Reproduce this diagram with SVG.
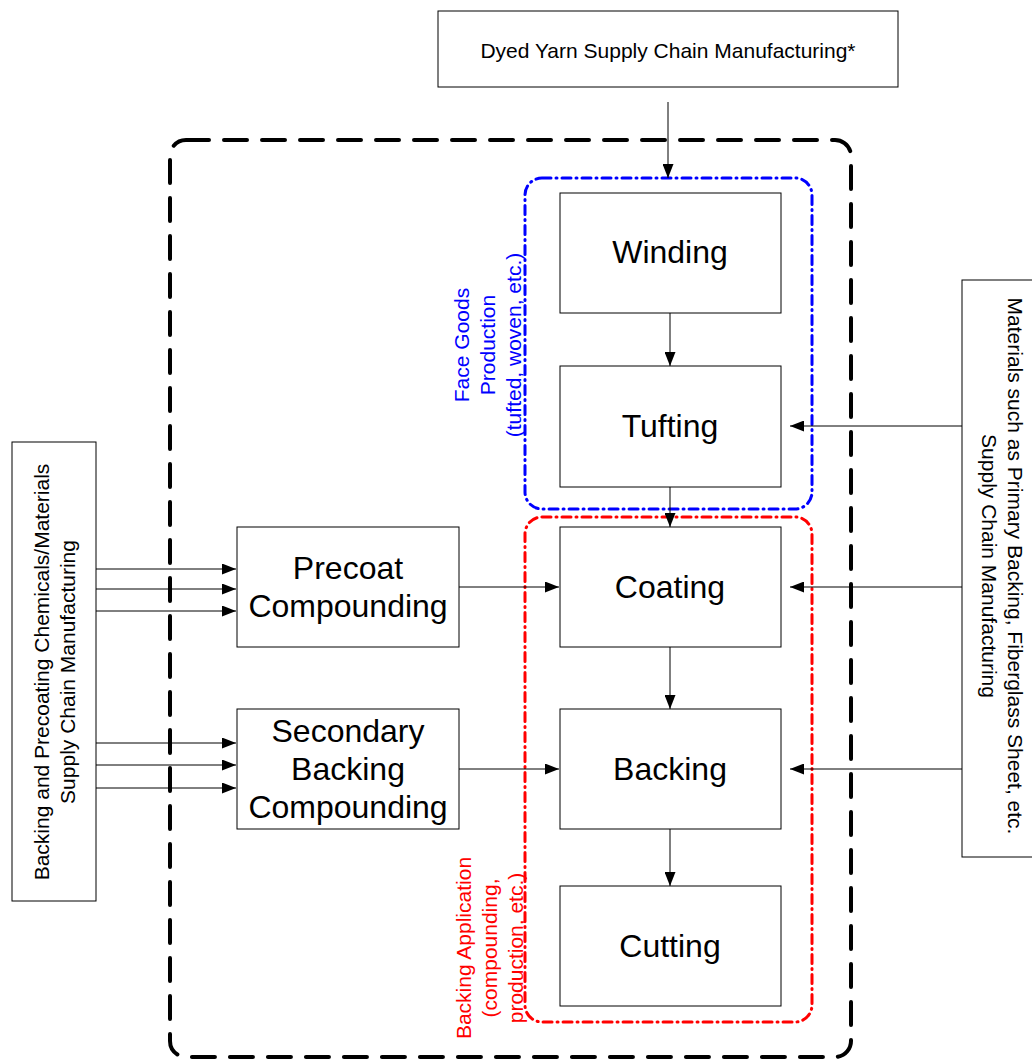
<svg xmlns="http://www.w3.org/2000/svg" width="1032" height="1061" viewBox="0 0 1032 1061">
<style>
.box{fill:#fff;stroke:#000;stroke-width:1}
.sm{font-family:"Liberation Sans",Arial,sans-serif;font-size:21px;fill:#000;text-anchor:middle;dominant-baseline:central}
.lg{font-family:"Liberation Sans",Arial,sans-serif;font-size:32px;fill:#000;text-anchor:middle;dominant-baseline:central}
.conn{stroke:#000;stroke-width:1;fill:none}
</style>
<defs>
<marker id="ah" markerUnits="userSpaceOnUse" markerWidth="14" markerHeight="11" refX="14" refY="5.5" orient="auto">
<path d="M0,0 L14,5.5 L0,11 z" fill="#000"/>
</marker>
</defs>
<rect width="1032" height="1061" fill="#fff"/>
<g id="groups">
<rect id="outer-boundary" x="170" y="140" width="681" height="917" rx="16" fill="none" stroke="#000" stroke-width="4" stroke-dasharray="23 15" stroke-linecap="round"/>
<rect id="face-goods-group" x="525" y="178" width="287" height="331" rx="17" fill="none" stroke="#0000ff" stroke-width="3" stroke-dasharray="9 5 1 5" stroke-linecap="round"/>
<rect id="backing-app-group" x="525" y="517" width="287" height="505" rx="17" fill="none" stroke="#ff0000" stroke-width="3" stroke-dasharray="9 5 1 5" stroke-linecap="round"/>
<g id="face-goods-label" transform="translate(487,345) rotate(-90)">
<text class="sm" style="fill:#0000ff" x="0" y="-26">Face Goods</text>
<text class="sm" style="fill:#0000ff" x="0" y="0">Production</text>
<text class="sm" style="fill:#0000ff" x="0" y="26">(tufted, woven, etc.)</text>
</g>
<g id="backing-app-label" transform="translate(489,948) rotate(-90)">
<text class="sm" style="fill:#ff0000" x="0" y="-26">Backing Application</text>
<text class="sm" style="fill:#ff0000" x="0" y="0">(compounding,</text>
<text class="sm" style="fill:#ff0000" x="0" y="26">production, etc.)</text>
</g>
</g>
<g id="connectors">
<line class="conn" x1="668" y1="102" x2="668" y2="178" marker-end="url(#ah)"/>
<line class="conn" x1="670" y1="313" x2="670" y2="366" marker-end="url(#ah)"/>
<line class="conn" x1="670" y1="487" x2="670" y2="527" marker-end="url(#ah)"/>
<line class="conn" x1="670" y1="647" x2="670" y2="709" marker-end="url(#ah)"/>
<line class="conn" x1="670" y1="829" x2="670" y2="886" marker-end="url(#ah)"/>
<line class="conn" x1="96" y1="569" x2="236" y2="569" marker-end="url(#ah)"/>
<line class="conn" x1="96" y1="589" x2="236" y2="589" marker-end="url(#ah)"/>
<line class="conn" x1="96" y1="611" x2="236" y2="611" marker-end="url(#ah)"/>
<line class="conn" x1="96" y1="743" x2="236" y2="743" marker-end="url(#ah)"/>
<line class="conn" x1="96" y1="765" x2="236" y2="765" marker-end="url(#ah)"/>
<line class="conn" x1="96" y1="788" x2="236" y2="788" marker-end="url(#ah)"/>
<line class="conn" x1="459" y1="587" x2="559" y2="587" marker-end="url(#ah)"/>
<line class="conn" x1="459" y1="769" x2="559" y2="769" marker-end="url(#ah)"/>
<line class="conn" x1="962" y1="426" x2="790" y2="426" marker-end="url(#ah)"/>
<line class="conn" x1="962" y1="587" x2="790" y2="587" marker-end="url(#ah)"/>
<line class="conn" x1="962" y1="769" x2="790" y2="769" marker-end="url(#ah)"/>
</g>
<g id="dyed-yarn">
<rect class="box" x="438" y="11" width="460" height="76"/>
<text class="sm" x="668" y="50">Dyed Yarn Supply Chain Manufacturing*</text>
</g>
<g id="backing-chemicals">
<rect class="box" x="12" y="442" width="84" height="459"/>
<g transform="translate(54,672) rotate(-90)">
<text class="sm" x="0" y="-13">Backing and Precoating Chemicals/Materials</text>
<text class="sm" x="0" y="13">Supply Chain Manufacturing</text>
</g>
</g>
<g id="materials">
<rect class="box" x="962" y="280" width="80" height="577"/>
<g transform="translate(1002,566) rotate(90)">
<text class="sm" x="0" y="-13">Materials such as Primary Backing, Fiberglass Sheet, etc.</text>
<text class="sm" x="0" y="13">Supply Chain Manufacturing</text>
</g>
</g>
<g id="winding">
<rect class="box" x="560" y="193" width="221" height="120"/>
<text class="lg" x="670" y="252">Winding</text>
</g>
<g id="tufting">
<rect class="box" x="560" y="366" width="221" height="121"/>
<text class="lg" x="670" y="426">Tufting</text>
</g>
<g id="coating">
<rect class="box" x="560" y="527" width="221" height="120"/>
<text class="lg" x="670" y="587">Coating</text>
</g>
<g id="backing">
<rect class="box" x="560" y="709" width="221" height="120"/>
<text class="lg" x="670" y="769">Backing</text>
</g>
<g id="cutting">
<rect class="box" x="560" y="886" width="221" height="120"/>
<text class="lg" x="670" y="946">Cutting</text>
</g>
<g id="precoat-compounding">
<rect class="box" x="237" y="527" width="222" height="120"/>
<text class="lg" x="348" y="568">Precoat</text>
<text class="lg" x="348" y="606">Compounding</text>
</g>
<g id="secondary-backing-compounding">
<rect class="box" x="237" y="709" width="222" height="120"/>
<text class="lg" x="348" y="731">Secondary</text>
<text class="lg" x="348" y="769">Backing</text>
<text class="lg" x="348" y="807">Compounding</text>
</g>
</svg>
